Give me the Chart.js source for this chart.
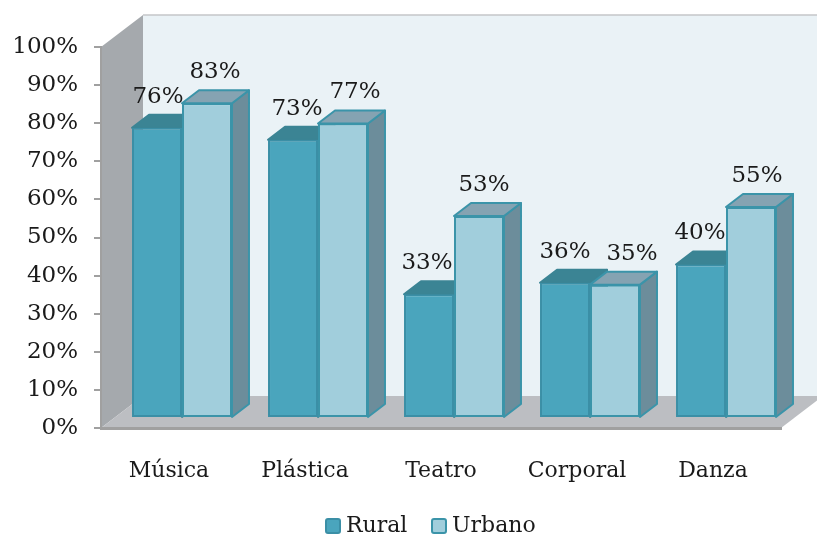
<!DOCTYPE html>
<html>
<head>
<meta charset="utf-8">
<style>
  html, body { margin: 0; padding: 0; background: #fff; }
  #wrap { width: 817px; height: 540px; }
</style>
<script src="https://cdn.jsdelivr.net/npm/chart.js@4"></script>
</head>
<body>
<div id="wrap"><canvas id="chart" width="817" height="540"></canvas></div>
<script>
const categories = ['Música', 'Plástica', 'Teatro', 'Corporal', 'Danza'];
const rural = [76.2, 73, 32.5, 35.5, 40.3];
const urbano = [82.6, 77.3, 53, 35, 55.4];
const yTicks = [0, 100];

// the labels were hand placed in the original, so each one has its own nudge
const ruralLabelNudge = [1, 4, -2, 0, -1];
const urbanoLabelNudge = [8, 12, 5, 17, 6];

const FONT = '"DejaVu Serif", serif';
const FONT_SIZE = 22;
const NUM_SIZE = 23;
const TEXT = '#1a1a1a';

const RURAL_FILL = '#4aa5bd', RURAL_LINE = '#3b8fa6';
const URBANO_FILL = '#a1cedc', URBANO_LINE = '#3b94a9';

// floor depth and bar depth in px (oblique projection)
const FLOOR_DX = 42, FLOOR_DY = -32;
const BAR_OFF_DX = 13, BAR_OFF_DY = -10;
const BAR_DX = 17, BAR_DY = -13;

function poly(ctx, pts, fill, stroke, lw) {
    ctx.beginPath();
    pts.forEach((p, i) => i ? ctx.lineTo(p[0], p[1]) : ctx.moveTo(p[0], p[1]));
    ctx.closePath();
    if (fill) { ctx.fillStyle = fill; ctx.fill(); }
    if (stroke) { ctx.strokeStyle = stroke; ctx.lineWidth = lw || 1; ctx.lineJoin = 'round'; ctx.stroke(); }
}

function legendEntry(ctx, x, label, fill, line) {
    ctx.fillStyle = fill;
    ctx.strokeStyle = line;
    ctx.lineWidth = 2;
    ctx.beginPath();
    ctx.roundRect(x + 1, 519, 14, 14, 2);
    ctx.fill();
    ctx.stroke();
    ctx.fillStyle = TEXT;
    ctx.fillText(label, x + 21, 526);
}

const box3d = {
    id: 'box3d',

    beforeDraw(chart) {
        const { ctx, chartArea: a } = chart;
        const y = chart.scales.y;
        const top = y.getPixelForValue(yTicks[1]);
        const bot = y.getPixelForValue(yTicks[0]);
        const w = chart.width + 10;
        ctx.save();
        // back wall
        poly(ctx, [[a.left + FLOOR_DX, top + FLOOR_DY], [w, top + FLOOR_DY], [w, bot + FLOOR_DY], [a.left + FLOOR_DX, bot + FLOOR_DY]], '#eaf2f6');
        ctx.strokeStyle = '#c4c6c8';
        ctx.lineWidth = 1.5;
        ctx.beginPath();
        ctx.moveTo(a.left + FLOOR_DX, top + FLOOR_DY);
        ctx.lineTo(w, top + FLOOR_DY);
        ctx.stroke();
        // side wall
        poly(ctx, [[a.left, top], [a.left + FLOOR_DX, top + FLOOR_DY], [a.left + FLOOR_DX, bot + FLOOR_DY], [a.left, bot]], '#a5a9ad');
        // floor
        poly(ctx, [[a.left, bot], [a.left + FLOOR_DX, bot + FLOOR_DY], [a.right + FLOOR_DX, bot + FLOOR_DY], [a.right, bot]], '#bcbec2');
        ctx.restore();
    },

    beforeDatasetsDraw(chart) {
        const ctx = chart.ctx;
        const sets = [
            { meta: chart.getDatasetMeta(0), top: '#3b8494', side: '#3b8494', line: '#3b8494' },
            { meta: chart.getDatasetMeta(1), top: '#85a3b2', side: '#6c8d9b', line: '#3b94a9' },
        ];
        ctx.save();
        categories.forEach((c, i) => {
            sets.forEach(s => {
                const bar = s.meta.data[i];
                const x0 = bar.x - bar.width / 2 + BAR_OFF_DX, x1 = bar.x + bar.width / 2 + BAR_OFF_DX;
                const t = bar.y + BAR_OFF_DY, b = bar.base + BAR_OFF_DY;
                poly(ctx, [[x1, t], [x1 + BAR_DX, t + BAR_DY], [x1 + BAR_DX, b + BAR_DY], [x1, b]], s.side, s.line, 2);
                poly(ctx, [[x0, t], [x0 + BAR_DX, t + BAR_DY], [x1 + BAR_DX, t + BAR_DY], [x1, t]], s.top, s.line, 2);
            });
        });
        ctx.restore();
        ctx.save();
        ctx.translate(BAR_OFF_DX, BAR_OFF_DY);
    },

    afterDatasetsDraw(chart) {
        const ctx = chart.ctx;
        ctx.restore();
        ctx.save();
        ctx.font = `${NUM_SIZE}px ${FONT}`;
        ctx.fillStyle = TEXT;
        ctx.textAlign = 'center';
        ctx.textBaseline = 'middle';
        [ruralLabelNudge, urbanoLabelNudge].forEach((nudge, d) => {
            chart.getDatasetMeta(d).data.forEach((bar, i) => {
                const v = Math.round(chart.data.datasets[d].data[i]);
                ctx.fillText(v + '%', bar.x + BAR_OFF_DX + nudge[i], bar.y + BAR_OFF_DY - 31);
            });
        });
        // legend
        ctx.font = `${FONT_SIZE}px ${FONT}`;
        ctx.textAlign = 'left';
        legendEntry(ctx, 325, 'Rural', RURAL_FILL, RURAL_LINE);
        legendEntry(ctx, 431, 'Urbano', URBANO_FILL, URBANO_LINE);
        ctx.restore();
    },
};

new Chart(document.getElementById('chart'), {
    type: 'bar',
    data: {
        labels: categories,
        datasets: [
            { label: 'Rural', data: rural, backgroundColor: RURAL_FILL, borderColor: RURAL_LINE, borderWidth: 2, borderSkipped: false },
            { label: 'Urbano', data: urbano, backgroundColor: URBANO_FILL, borderColor: URBANO_LINE, borderWidth: 2, borderSkipped: false },
        ],
    },
    options: {
        responsive: false,
        animation: false,
        categoryPercentage: 0.735,
        barPercentage: 1,
        layout: { padding: { top: 47, right: 36, bottom: 0, left: 0 } },
        plugins: {
            tooltip: { enabled: false },
            legend: { display: false },
        },
        scales: {
            x: {
                grid: { display: false },
                border: { color: '#a0a0a0', width: 3 },
                ticks: { color: TEXT, padding: 22, maxRotation: 0, font: { family: FONT, size: FONT_SIZE } },
                afterFit(scale) { scale.height = 112; },
            },
            y: {
                min: yTicks[0],
                max: yTicks[1],
                grid: { drawOnChartArea: false, color: '#a0a0a0', tickLength: 7, lineWidth: 2 },
                border: { color: '#a0a0a0', width: 2 },
                ticks: {
                    stepSize: 10,
                    color: TEXT,
                    padding: 16,
                    font: { family: FONT, size: NUM_SIZE },
                    callback: v => v + '%',
                },
                afterFit(scale) { scale.width = 101; },
            },
        },
    },
    plugins: [box3d],
});
</script>
</body>
</html>
